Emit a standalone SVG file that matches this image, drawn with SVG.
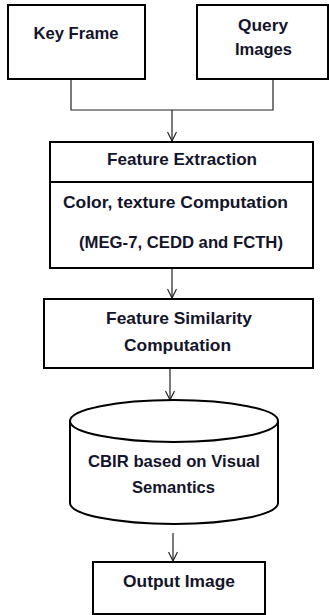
<svg xmlns="http://www.w3.org/2000/svg" width="329" height="615" viewBox="0 0 329 615">
<defs>
<style>
.box{fill:#fff;stroke:#000;stroke-width:2}
.t{font-family:"Liberation Sans",Arial,sans-serif;font-weight:bold;font-size:16.5px;fill:#14142a;text-anchor:middle}
.c{fill:none;stroke:#222;stroke-width:1.2}
</style>
<marker id="ah" markerWidth="12" markerHeight="10" refX="10" refY="5" orient="auto" markerUnits="userSpaceOnUse">
<path d="M1,0.5 L10,5 L1,9.5" fill="none" stroke="#222" stroke-width="1.2"/>
</marker>
</defs>
<rect width="329" height="615" fill="#fff"/>
<g id="connectors">
<path class="c" d="M71,79 V110 H273 V79"/>
<path class="c" d="M172,110 V141" marker-end="url(#ah)"/>
<path class="c" d="M172,268 V298" marker-end="url(#ah)"/>
<path class="c" d="M170,368 V400" marker-end="url(#ah)"/>
<path class="c" d="M173,533 V561" marker-end="url(#ah)"/>
</g>
<g id="key-frame">
<rect class="box" x="8" y="5" width="137" height="74"/>
<text class="t" x="76" y="39" textLength="85" lengthAdjust="spacingAndGlyphs">Key Frame</text>
</g>
<g id="query-images">
<rect class="box" x="197" y="5" width="131" height="74"/>
<text class="t" x="263" y="31" textLength="50" lengthAdjust="spacingAndGlyphs">Query</text>
<text class="t" x="263.5" y="55" textLength="57" lengthAdjust="spacingAndGlyphs">Images</text>
</g>
<g id="feature-extraction">
<rect class="box" x="50" y="142" width="263" height="126"/>
<line x1="50" y1="182" x2="313" y2="182" stroke="#000" stroke-width="2"/>
<text class="t" x="182" y="165" textLength="150" lengthAdjust="spacingAndGlyphs">Feature Extraction</text>
<text class="t" x="175.5" y="208" textLength="225" lengthAdjust="spacingAndGlyphs">Color, texture Computation</text>
<text class="t" x="181" y="248" textLength="204" lengthAdjust="spacingAndGlyphs">(MEG-7, CEDD and FCTH)</text>
</g>
<g id="feature-similarity">
<rect class="box" x="44" y="299" width="269" height="69"/>
<text class="t" x="179" y="324" textLength="146" lengthAdjust="spacingAndGlyphs">Feature Similarity</text>
<text class="t" x="177.5" y="351" textLength="107" lengthAdjust="spacingAndGlyphs">Computation</text>
</g>
<g id="cbir">
<path class="box" d="M70,421 A104,21 0 0 1 278,421 V503 A104,21 0 0 1 70,503 Z"/>
<path fill="none" stroke="#000" stroke-width="2" d="M70,421 A104,21 0 0 0 278,421"/>
<text class="t" x="174" y="467" textLength="172" lengthAdjust="spacingAndGlyphs">CBIR based on Visual</text>
<text class="t" x="173.5" y="493" textLength="83" lengthAdjust="spacingAndGlyphs">Semantics</text>
</g>
<g id="output-image">
<rect class="box" x="93" y="562" width="172" height="52"/>
<text class="t" x="179" y="587" textLength="112" lengthAdjust="spacingAndGlyphs">Output Image</text>
</g>
</svg>
